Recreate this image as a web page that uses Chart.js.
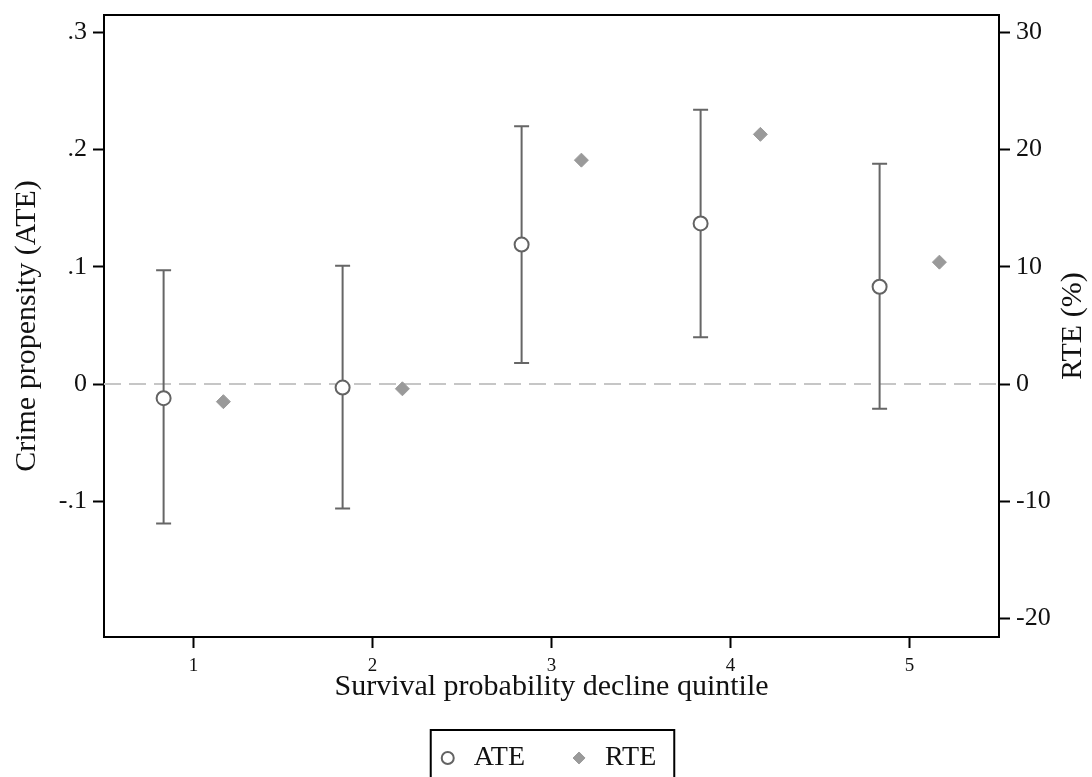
<!DOCTYPE html>
<html>
<head>
<meta charset="utf-8">
<script src="https://cdn.jsdelivr.net/npm/chart.js@4.4.0/dist/chart.umd.min.js"></script>
<style>
  html, body { margin: 0; padding: 0; background: #fff; }
  #wrap { width: 1092px; height: 777px; }
</style>
</head>
<body>
<div id="wrap"><canvas id="myChart"></canvas></div>
<script>
// quintiles on the x axis
var quintiles = [1, 2, 3, 4, 5];

// ATE and its confidence interval (left axis)
var ate = [-0.012, -0.003, 0.119, 0.137, 0.083];
var ateLow = [-0.119, -0.106, 0.018, 0.040, -0.021];
var ateHigh = [0.097, 0.101, 0.220, 0.234, 0.188];

// RTE in percent (right axis)
var rte = [-1.5, -0.4, 19.1, 21.3, 10.4];

// ticks
var xTicks = [1, 2, 3, 4, 5];
var leftTicks = [-0.1, 0, 0.1, 0.2, 0.3];
var leftTickLabels = ["-.1", "0", ".1", ".2", ".3"];
var rightTicks = [-20, -10, 0, 10, 20, 30];

var shift = 0.167; // ATE sits left of the quintile, RTE right of it

const ctx = document.getElementById("myChart");
const serif = "'Liberation Serif', 'Times New Roman', serif";
const ink = "#111";

var extras = {
  id: "extras",

  beforeDatasetsDraw: function (chart) {
    let c = chart.ctx;
    let a = chart.chartArea;
    let x = chart.scales.x;
    let y = chart.scales.y;
    let y0 = y.getPixelForValue(0);

    c.save();
    // dashed zero line
    c.strokeStyle = "#c6c6c6";
    c.lineWidth = 2;
    c.setLineDash([17, 8]);
    c.beginPath();
    c.moveTo(a.left, y0);
    c.lineTo(a.right, y0);
    c.stroke();
    c.setLineDash([]);

    // confidence intervals
    c.strokeStyle = "#666";
    c.lineWidth = 2;
    for (let i = 0; i < quintiles.length; i++) {
      let px = x.getPixelForValue(quintiles[i] - shift);
      let lo = y.getPixelForValue(ateLow[i]);
      let hi = y.getPixelForValue(ateHigh[i]);
      c.beginPath();
      c.moveTo(px, lo);
      c.lineTo(px, hi);
      c.moveTo(px - 7.5, lo);
      c.lineTo(px + 7.5, lo);
      c.moveTo(px - 7.5, hi);
      c.lineTo(px + 7.5, hi);
      c.stroke();
    }
    c.restore();
  },

  afterDraw: function (chart) {
    let c = chart.ctx;
    let a = chart.chartArea;

    c.save();
    // top of the frame
    c.strokeStyle = "#000";
    c.lineWidth = 2;
    c.beginPath();
    c.moveTo(a.left - 1, a.top);
    c.lineTo(a.right + 1, a.top);
    c.stroke();

    // right axis title, reading upwards like the left one
    c.translate(1073, (a.top + a.bottom) / 2);
    c.rotate(-Math.PI / 2);
    c.font = "30px " + serif;
    c.fillStyle = ink;
    c.textAlign = "center";
    c.textBaseline = "middle";
    c.fillText("RTE (%)", 0, 0);
    c.restore();

    // box round the legend
    let hb = chart.legend.legendHitBoxes;
    if (hb.length > 0) {
      let last = hb[hb.length - 1];
      let l = hb[0].left + 12 - 17;
      let r = last.left + last.width + 18;
      let t = hb[0].top - 14;
      c.save();
      c.strokeStyle = "#000";
      c.lineWidth = 2;
      c.strokeRect(l, t, r - l, 90);
      c.restore();
    }
  }
};

new Chart(ctx, {
  type: "scatter",
  data: {
    datasets: [{
      label: "ATE",
      data: quintiles.map((q, i) => ({ x: q - shift, y: ate[i] })),
      yAxisID: "y",
      pointStyle: "circle",
      pointRadius: 7,
      pointHoverRadius: 7,
      pointBorderWidth: 2,
      pointBorderColor: "#636363",
      pointBackgroundColor: "#fff"
    }, {
      label: "RTE",
      data: quintiles.map((q, i) => ({ x: q + shift, y: rte[i] })),
      yAxisID: "y2",
      pointStyle: "rectRot",
      pointRadius: 7,
      pointHoverRadius: 7,
      pointBorderWidth: 1,
      pointBorderColor: "#9a9a9a",
      pointBackgroundColor: "#9a9a9a"
    }]
  },
  options: {
    responsive: true,
    maintainAspectRatio: false,
    animation: false,
    layout: { padding: { top: 15, left: 0, right: 0, bottom: -5 } },
    plugins: {
      tooltip: { enabled: false },
      legend: {
        position: "bottom",
        labels: {
          usePointStyle: true,
          boxWidth: 24,
          boxHeight: 8.5,
          padding: 42,
          color: ink,
          font: { family: serif, size: 28 }
        }
      }
    },
    scales: {
      x: {
        type: "linear",
        min: 0.5,
        max: 5.5,
        afterBuildTicks: function (scale) {
          scale.ticks = xTicks.map(v => ({ value: v }));
        },
        afterFit: function (scale) { scale.height = 65; },
        grid: { drawOnChartArea: false, tickLength: 11, tickWidth: 2, tickColor: "#000" },
        border: { display: true, color: "#000", width: 2 },
        ticks: { color: ink, padding: 7, font: { family: serif, size: 19 } },
        title: {
          display: true,
          text: "Survival probability decline quintile",
          color: ink,
          font: { family: serif, size: 30, lineHeight: 1 },
          padding: { top: 0, bottom: 0 }
        }
      },
      y: {
        position: "left",
        min: -0.2157,
        max: 0.3148,
        afterBuildTicks: function (scale) {
          scale.ticks = leftTicks.map(v => ({ value: v }));
        },
        afterFit: function (scale) { scale.width = 104; },
        grid: { drawOnChartArea: false, tickLength: 11, tickWidth: 2, tickColor: "#000" },
        border: { display: true, color: "#000", width: 2 },
        ticks: {
          color: ink,
          padding: 6,
          font: { family: serif, size: 26, lineHeight: 0.6 },
          callback: function (value) {
            let i = leftTicks.indexOf(value);
            return i >= 0 ? leftTickLabels[i] : "";
          }
        },
        title: {
          display: true,
          text: "Crime propensity (ATE)",
          color: ink,
          font: { family: serif, size: 30, lineHeight: 1.2 },
          padding: { top: 9, bottom: 0 }
        }
      },
      y2: {
        position: "right",
        min: -21.57,
        max: 31.48,
        afterBuildTicks: function (scale) {
          scale.ticks = rightTicks.map(v => ({ value: v }));
        },
        afterFit: function (scale) { scale.width = 93; },
        grid: { drawOnChartArea: false, tickLength: 11, tickWidth: 2, tickColor: "#000" },
        border: { display: true, color: "#000", width: 2 },
        ticks: { color: ink, padding: 6, font: { family: serif, size: 26, lineHeight: 0.6 } }
      }
    }
  },
  plugins: [extras]
});
</script>
</body>
</html>
